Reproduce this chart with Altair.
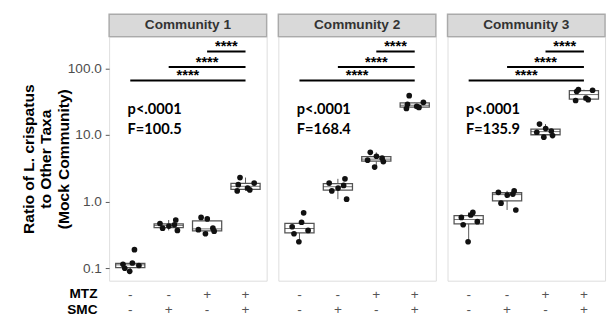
import altair as alt
import pandas as pd

communities = ["Community 1", "Community 2", "Community 3"]
groups = ["- -", "- +", "+ -", "+ +"]  # "MTZ SMC"

ratio_c1 = [
    [0.19, 0.12, 0.115, 0.11, 0.10, 0.09],
    [0.53, 0.47, 0.45, 0.43, 0.40, 0.37],
    [0.58, 0.55, 0.40, 0.38, 0.36, 0.33],
    [2.3, 1.9, 1.8, 1.6, 1.5, 1.45],
]
ratio_c2 = [
    [0.68, 0.49, 0.42, 0.37, 0.33, 0.25],
    [2.2, 1.9, 1.75, 1.6, 1.45, 1.09],
    [5.5, 4.8, 4.5, 4.2, 4.0, 3.3],
    [39, 31, 29, 27, 26, 25],
]
ratio_c3 = [
    [0.69, 0.63, 0.58, 0.50, 0.45, 0.25],
    [1.45, 1.38, 1.30, 1.25, 0.95, 0.75],
    [14.6, 12.5, 11.5, 11.0, 9.8, 9.3],
    [48, 47, 45, 36, 34, 33],
]
p_text = ["p<.0001", "p<.0001", "p<.0001"]
f_text = ["F=100.5", "F=168.4", "F=135.9"]

sig_from = [2, 1, 0]      # index of group compared with "+ +"
sig_to = [3, 3, 3]
sig_y = [180, 105, 66]
sig_label = ["****", "****", "****"]

rows = []
for name, vals in zip(communities, [ratio_c1, ratio_c2, ratio_c3]):
    for gi, g in enumerate(groups):
        for pi, v in enumerate(vals[gi]):
            rows.append({"community": name, "group": g, "ratio": v, "gi": gi, "pi": pi})
pts = pd.DataFrame(rows)

stats = pd.DataFrame({"community": communities, "p": p_text, "f": f_text})
sig = pd.DataFrame([
    {"community": c, "from": groups[a], "to": groups[b], "mid": (a + b) / 2, "y": y, "label": l}
    for c in communities
    for a, b, y, l in zip(sig_from, sig_to, sig_y, sig_label)
])

W, H = 162, 251
FONT = "Liberation Sans"

xscale = alt.Scale(domain=groups, paddingInner=0, paddingOuter=0.05)
yscale = alt.Scale(type="log", domain=[0.065, 300], nice=False)


def panel(ci, name):
    first = ci == 0
    if first:
        yaxis = alt.Axis(
            values=[0.1, 1, 10, 100], format=".1f", grid=False, domain=False,
            tickSize=4, tickColor="#555555", labelPadding=4, labelFontSize=14,
            labelColor="#4d4d4d", labelFont=FONT,
            title=["Ratio of L. crispatus", "to Other Taxa", "(Mock Community)"],
            titleFontSize=16, titleFontWeight="bold", titleColor="black", titleFont=FONT,
            titleLineHeight=18, titleX=-83, titleY=H / 2, titleAngle=-90,
            titleBaseline="middle", titleAlign="center",
        )
    else:
        yaxis = None
    xaxis = alt.Axis(
        title=None, labelExpr="split(datum.label, ' ')", labelAngle=0, ticks=False,
        domain=False, grid=False, labelColor="#555555", labelFontSize=14, labelFont=FONT,
        labelLineHeight=16, labelPadding=7, labelOverlap=False,
    )
    d = pts[pts.community == name]
    s = stats[stats.community == name]
    g = sig[sig.community == name]

    y = alt.Y("ratio:Q", scale=yscale, axis=yaxis)

    strip = alt.Chart(s).mark_rect(fill="#d9d9d9", stroke="#aaaaaa", strokeWidth=1.5).encode(
        x=alt.value(0), x2=alt.value(W), y=alt.value(-23), y2=alt.value(0)
    )
    strip_txt = alt.Chart(s).mark_text(font=FONT, fontSize=14, fontWeight="bold", color="#333333").encode(
        text="community:N", x=alt.value(W / 2), y=alt.value(-11.5)
    )
    box = alt.Chart(d).mark_boxplot(
        extent=1.5, size=30, outliers=False, ticks=False,
        box={"fill": "white", "stroke": "#555555", "strokeWidth": 1.3},
        median={"color": "#333333", "strokeWidth": 1.5},
        rule={"color": "#555555", "strokeWidth": 1},
    ).encode(x=alt.X("group:N", sort=groups, scale=xscale, axis=xaxis), y=y)
    dots = alt.Chart(d).transform_calculate(
        jit="sin(datum.pi * 2.4 + datum.gi * 1.7 + 0.5)"
    ).mark_circle(size=34, color="#111111", opacity=1).encode(
        x=alt.X("group:N", sort=groups, scale=xscale, axis=None), y=y,
        xOffset=alt.XOffset("jit:Q", scale=alt.Scale(domain=[-1, 1], range=[W / 4.1 / 2 - 9, W / 4.1 / 2 + 9])),
    )
    rules = alt.Chart(g).mark_rule(color="black", strokeWidth=2).encode(
        x=alt.X("from:N", sort=groups, scale=xscale, axis=None),
        x2="to:N",
        y=alt.Y("y:Q", scale=yscale, axis=yaxis),
    )
    stars = alt.Chart(g).mark_text(font=FONT, fontSize=15, fontWeight="bold", color="black",
                                   baseline="alphabetic", dy=0).encode(
        x=alt.X("mid:Q", scale=alt.Scale(domain=[-0.55, 3.55], nice=False, zero=False), axis=None),
        y=alt.Y("y:Q", scale=yscale, axis=yaxis),
        text="label:N",
    )
    ptxt = alt.Chart(s).mark_text(font="Lato", fontSize=15, fontWeight="bold", color="black",
                                  align="left", baseline="middle").encode(
        text="p:N", x=alt.value(19), y=alt.value(75)
    )
    ftxt = alt.Chart(s).mark_text(font="Lato", fontSize=15, fontWeight="bold", color="black",
                                  align="left", baseline="middle").encode(
        text="f:N", x=alt.value(19), y=alt.value(95)
    )
    layers = [strip, strip_txt, box, dots, rules, stars, ptxt, ftxt]
    if first:
        rowlab = pd.DataFrame({"lab": ["MTZ", "SMC"], "ord": [0, 1]})
        mtz = alt.Chart(rowlab[rowlab.ord == 0]).mark_text(
            font=FONT, fontSize=14, fontWeight="bold", color="black", align="right", baseline="middle"
        ).encode(text="lab:N", x=alt.value(-12), y=alt.value(H + 14))
        smc = alt.Chart(rowlab[rowlab.ord == 1]).mark_text(
            font=FONT, fontSize=14, fontWeight="bold", color="black", align="right", baseline="middle"
        ).encode(text="lab:N", x=alt.value(-12), y=alt.value(H + 30))
        layers += [mtz, smc]
    return alt.layer(*layers).resolve_scale(x="independent").properties(width=W, height=H)


chart = alt.hconcat(*[panel(i, n) for i, n in enumerate(communities)], spacing=8).properties(
    padding={"left": 12, "top": 0, "right": 0, "bottom": 0}
).configure_view(stroke="#aaaaaa", strokeWidth=1.5).configure(background="white")

chart.save("out.html", embed_options={"renderer": "svg", "actions": False})
